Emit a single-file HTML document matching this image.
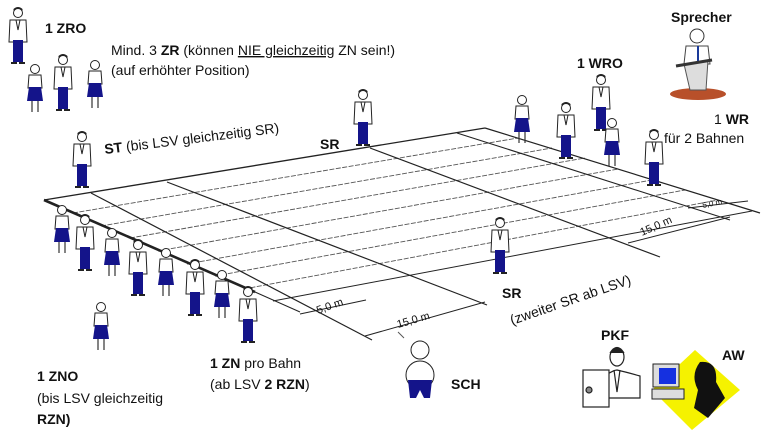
<!DOCTYPE html>
<html><head><meta charset="utf-8"><style>
html,body{margin:0;padding:0;background:#fff;}
svg{display:block;}
text{font-family:"Liberation Sans",Arial,sans-serif;fill:#111;}
.b{font-weight:bold;}
</style></head><body>
<svg width="768" height="441" viewBox="0 0 768 441" xmlns="http://www.w3.org/2000/svg">
<defs>
 <g id="man">
  <circle cx="0" cy="5" r="4.5" fill="#fff" stroke="#222" stroke-width="1"/>
  <path d="M-4.5,3 Q0,-2 4.5,3 L4.5,1 Q0,-3 -4.5,1Z" fill="#222"/>
  <path d="M-8,12 L8,12 L9,34 L-9,34Z" fill="#fff" stroke="#222" stroke-width="1"/>
  <path d="M-2,12 L0,22 L2,12" fill="none" stroke="#222"/>
  <rect x="-5" y="32" width="10" height="22" fill="#14148a"/>
  <path d="M-7,55 h6 M1,55 h6" stroke="#222" stroke-width="2"/>
 </g>
 <g id="woman">
  <circle cx="0" cy="5" r="4.5" fill="#fff" stroke="#222" stroke-width="1"/>
  <path d="M-6,11 L6,11 L7,24 L-7,24Z" fill="#fff" stroke="#222" stroke-width="1"/>
  <path d="M-6,23 L6,23 L8,37 L-8,37Z" fill="#14148a"/>
  <path d="M-3,37 V48 M3,37 V48" stroke="#333" stroke-width="1.2"/>
 </g>
</defs>

<g stroke="#555" stroke-width="0.9" stroke-dasharray="5,1.5" fill="none">
 <line x1="73" y1="213" x2="518" y2="138"/>
 <line x1="101" y1="226" x2="552" y2="148"/>
 <line x1="130" y1="238" x2="585" y2="158"/>
 <line x1="158" y1="251" x2="618" y2="169"/>
 <line x1="187" y1="264" x2="652" y2="180"/>
 <line x1="215" y1="276" x2="685" y2="190"/>
 <line x1="244" y1="289" x2="718" y2="200"/>
</g>
<g stroke="#222" fill="none">
 <line x1="44" y1="200" x2="485" y2="128" stroke-width="1.3"/>
 <line x1="273" y1="301" x2="752" y2="211" stroke-width="1"/>
 <line x1="485" y1="128" x2="760" y2="213" stroke-width="1.2"/>
 <line x1="44" y1="200" x2="255" y2="292" stroke-width="2.6"/>
 <line x1="255" y1="292" x2="300" y2="312" stroke-width="1"/>
 <line x1="91" y1="193" x2="372" y2="340" stroke-width="1.2"/>
 <line x1="167" y1="182" x2="487" y2="305" stroke-width="1.2"/>
 <line x1="370" y1="148" x2="660" y2="257" stroke-width="1.2"/>
 <line x1="457" y1="133" x2="730" y2="220" stroke-width="1.1"/>
 <line x1="300" y1="314" x2="366" y2="300" stroke-width="1"/>
 <line x1="365" y1="336" x2="485" y2="302" stroke-width="1"/>
 <line x1="628" y1="243" x2="730" y2="217" stroke-width="1"/>
 <line x1="688" y1="208" x2="748" y2="201" stroke-width="1"/>
</g>
<g font-size="11" fill="#111">
 <text x="318" y="314" transform="rotate(-20 318 314)">5,0 m</text>
 <text x="398" y="328" transform="rotate(-16 398 328)">15,0 m</text>
 <text x="642" y="236" transform="rotate(-24 642 236)">15,0 m</text>
 <text x="703" y="208" font-size="8" transform="rotate(-12 703 208)">5,0 m</text>
</g>

<use href="#man" x="18" y="8"/>
<use href="#woman" x="35" y="64"/>
<use href="#man" x="63" y="55"/>
<use href="#woman" x="95" y="60"/>
<use href="#man" x="82" y="132"/>
<use href="#man" x="363" y="90"/>
<use href="#woman" x="522" y="95"/>
<use href="#man" x="566" y="103"/>
<use href="#man" x="601" y="75"/>
<use href="#woman" x="612" y="118"/>
<use href="#man" x="654" y="130"/>
<use href="#woman" x="62" y="205"/>
<use href="#man" x="85" y="215"/>
<use href="#woman" x="112" y="228"/>
<use href="#man" x="138" y="240"/>
<use href="#woman" x="166" y="248"/>
<use href="#man" x="195" y="260"/>
<use href="#woman" x="222" y="270"/>
<use href="#man" x="248" y="287"/>
<use href="#woman" x="101" y="302"/>
<use href="#man" x="500" y="218"/>

<g>
 <ellipse cx="698" cy="94" rx="28" ry="6" fill="#b8502a"/>
 <circle cx="697" cy="36" r="7" fill="#fff" stroke="#333"/>
 <path d="M686,46 L708,46 L710,64 L684,64Z" fill="#fff" stroke="#444"/>
 <line x1="698" y1="46" x2="698" y2="62" stroke="#1a3a9a" stroke-width="2"/>
 <path d="M684,64 L708,60 L706,90 L690,90Z" fill="#ddd" stroke="#555"/>
 <path d="M676,66 L712,60" stroke="#333" stroke-width="3"/>
</g>
<g>
 <circle cx="420" cy="350" r="9" fill="#fff" stroke="#222"/>
 <ellipse cx="420" cy="375" rx="14" ry="14" fill="#fff" stroke="#222"/>
 <path d="M408,380 L432,380 L430,398 L424,398 L420,390 L416,398 L410,398Z" fill="#14148a"/>
 <path d="M404,338 l-6,-6" stroke="#555"/>
</g>
<!-- PKF -->
<g stroke="#222" fill="#fff" stroke-width="1.2">
 <path d="M603,398 L606,375 Q614,370 617,370 Q626,372 640,376 L640,398Z"/>
 <ellipse cx="617" cy="357" rx="7" ry="9"/>
 <path d="M610,353 Q617,342 624,353" fill="#222"/>
 <path d="M614,370 L617,392 L620,370" fill="none"/>
 <rect x="583" y="370" width="26" height="37"/>
 <circle cx="589" cy="390" r="3" fill="#888"/>
</g>
<!-- AW -->
<polygon points="695,350 740,390 692,430 652,390" fill="#f5f200"/>
<rect x="653" y="364" width="26" height="23" fill="#ddd" stroke="#222"/>
<rect x="659" y="368" width="17" height="16" fill="#1530e0"/>
<rect x="652" y="389" width="32" height="10" fill="#ddd" stroke="#222"/>
<path d="M700,362 Q718,360 716,382 L725,398 L708,418 L694,408 L698,390 Q690,375 700,362Z" fill="#111"/>

<text x="45" y="33" font-size="14" class="b">1 ZRO</text>
<text x="111" y="55" font-size="14">Mind. 3 <tspan class="b">ZR</tspan> (können <tspan text-decoration="underline">NIE gleichzeitig</tspan> ZN sein!)</text>
<text x="111" y="75" font-size="14">(auf erhöhter Position)</text>
<text x="105" y="154" font-size="14" transform="rotate(-7 105 154)"><tspan class="b">ST</tspan> (bis LSV gleichzeitig SR)</text>
<text x="320" y="149" font-size="14" class="b">SR</text>
<text x="577" y="68" font-size="14" class="b">1 WRO</text>
<text x="671" y="22" font-size="14" class="b">Sprecher</text>
<text x="714" y="124" font-size="14">1 <tspan class="b">WR</tspan></text>
<text x="664" y="143" font-size="14">für 2 Bahnen</text>
<text x="502" y="298" font-size="14" class="b">SR</text>
<text x="512" y="325" font-size="14" transform="rotate(-19 512 325)">(zweiter SR ab LSV)</text>
<text x="601" y="340" font-size="14" class="b">PKF</text>
<text x="722" y="360" font-size="14" class="b">AW</text>
<text x="451" y="389" font-size="14" class="b">SCH</text>
<text x="210" y="368" font-size="14"><tspan class="b">1 ZN</tspan> pro Bahn</text>
<text x="210" y="389" font-size="14">(ab LSV <tspan class="b">2 RZN</tspan>)</text>
<text x="37" y="381" font-size="14" class="b">1 ZNO</text>
<text x="37" y="403" font-size="14">(bis LSV gleichzeitig</text>
<text x="37" y="424" font-size="14" class="b">RZN)</text>
</svg>
</body></html>
